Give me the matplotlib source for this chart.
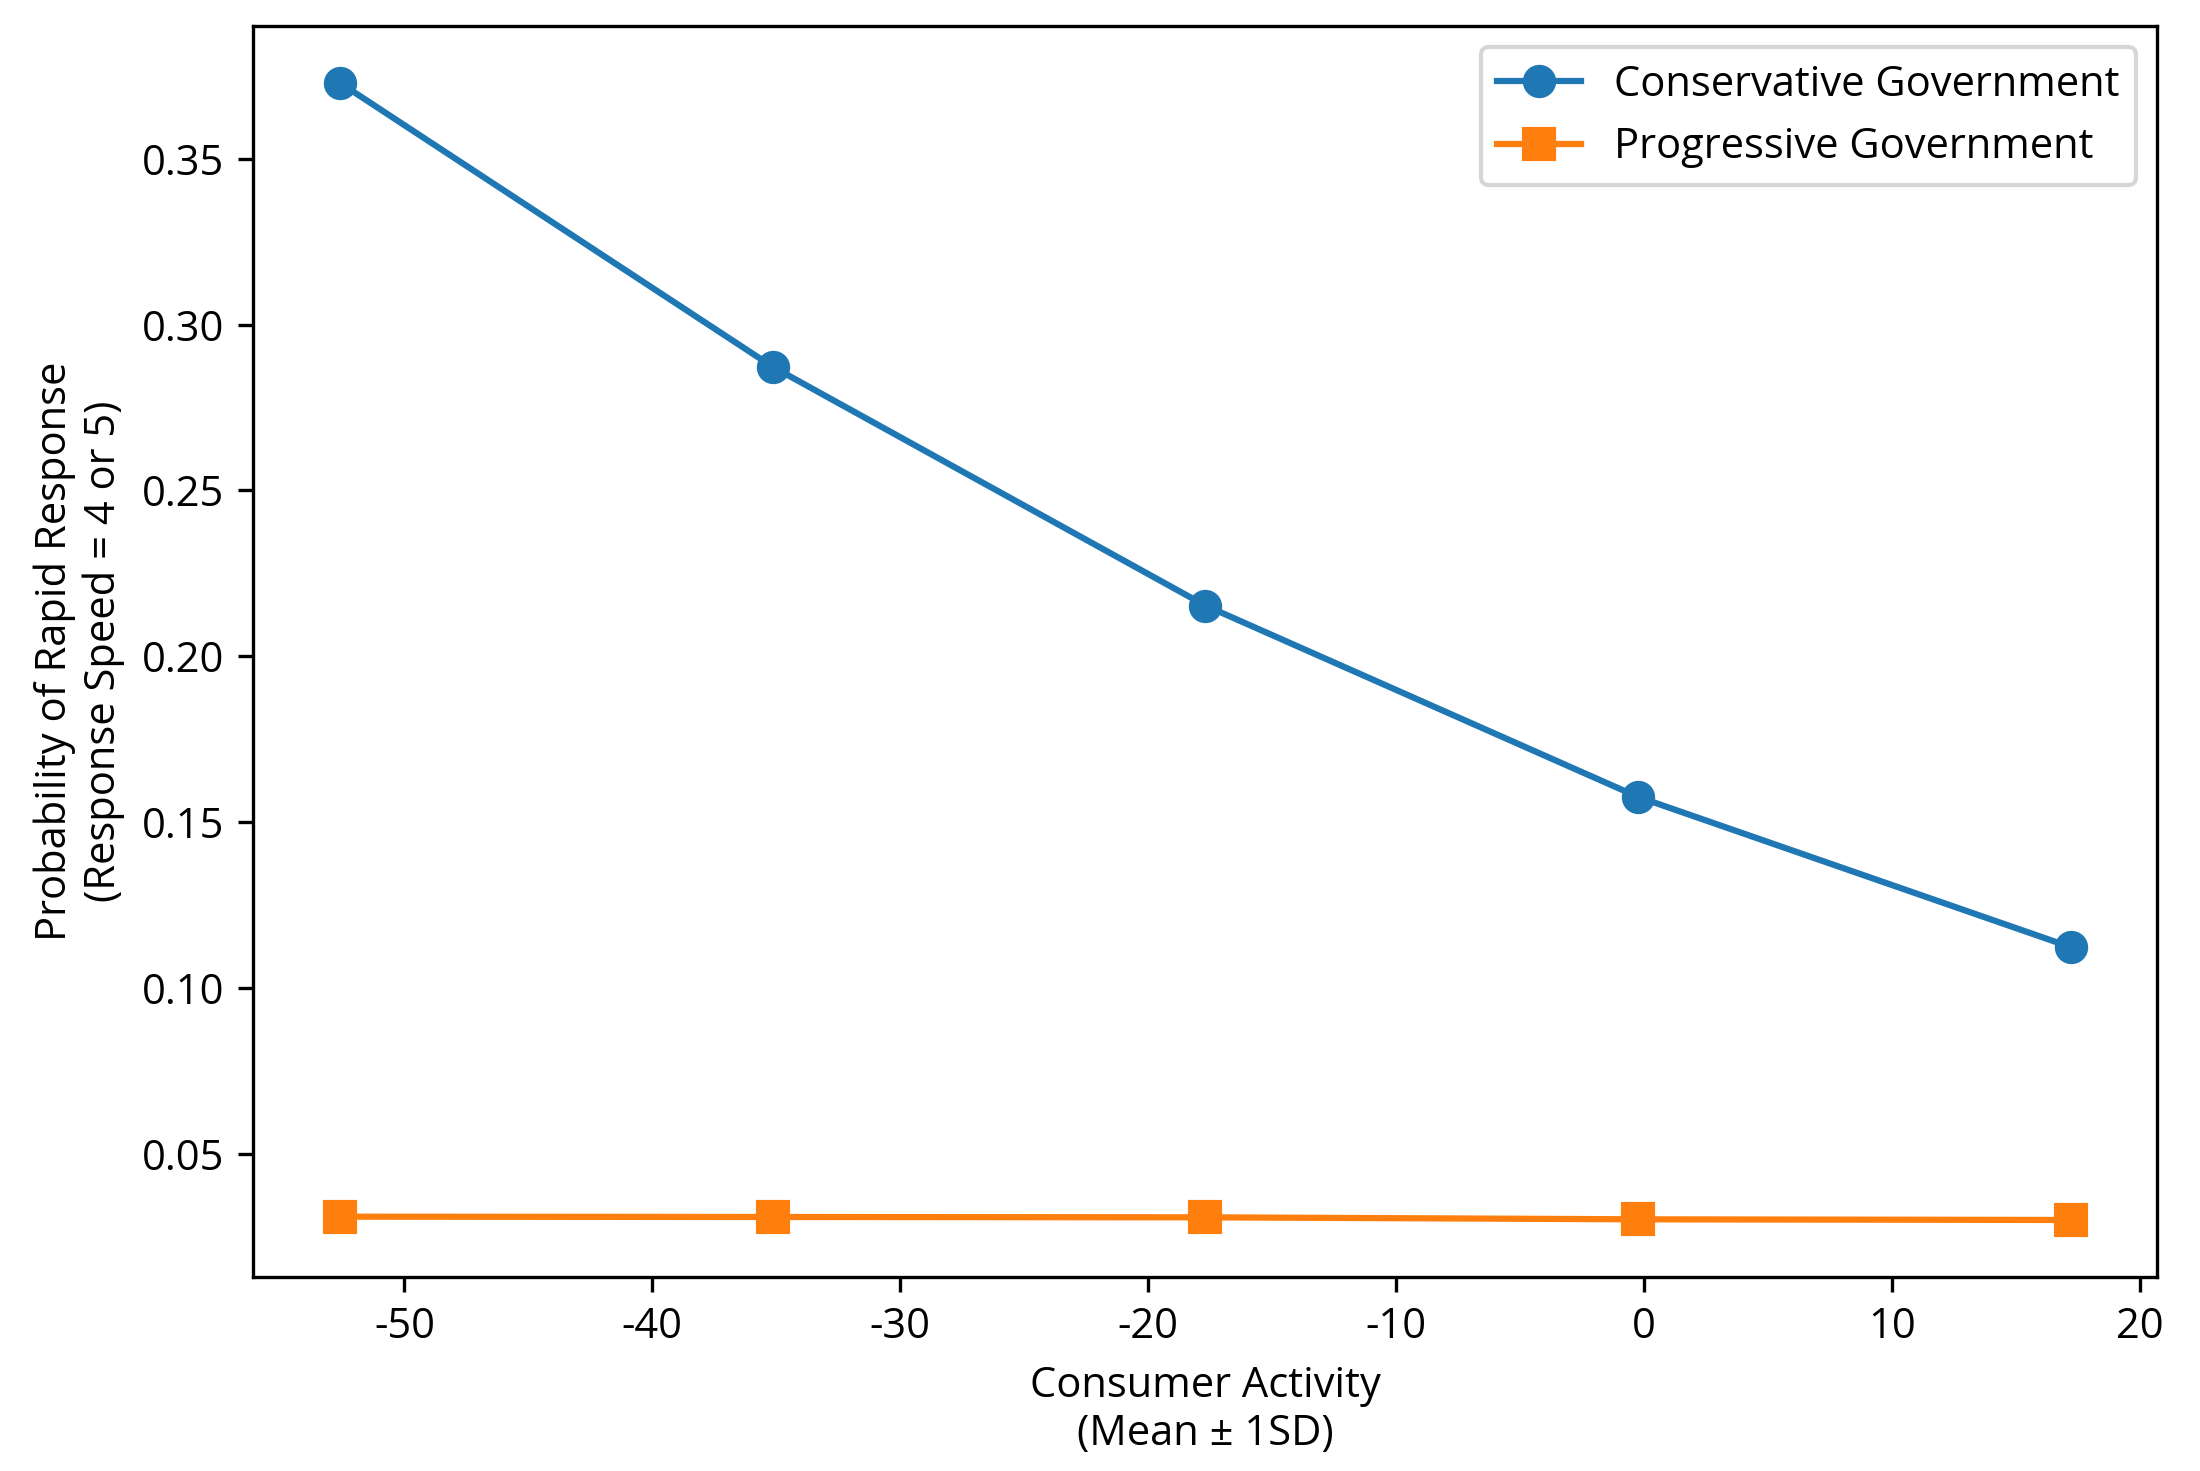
import matplotlib
matplotlib.use("Agg")
import matplotlib.pyplot as plt

plt.rcParams['font.family'] = ['Open Sans', 'DejaVu Sans']
plt.rcParams['axes.unicode_minus'] = False

# consumer activity values (mean +/- SD steps)
consumer_activity = [-52.6, -35.15, -17.7, -0.25, 17.2]

# predicted probability of rapid response
conservative_prob = [0.3729, 0.2873, 0.2153, 0.1576, 0.1123]
progressive_prob = [0.0310, 0.0309, 0.0308, 0.0302, 0.0300]

fig = plt.figure(figsize=(2200 / 300, 1471 / 300), dpi=300)
ax = fig.add_axes([0.1152, 0.132, 0.8653, 0.8503])

ax.plot(consumer_activity, conservative_prob, marker="o", markersize=7,
        color="#1f77b4", label="Conservative Government")
ax.plot(consumer_activity, progressive_prob, marker="s", markersize=7,
        color="#ff7f0e", label="Progressive Government")

ax.set_xlabel("Consumer Activity\n(Mean ± 1SD)")
ax.set_ylabel("Probability of Rapid Response\n(Response Speed = 4 or 5)")
ax.legend(loc="upper right")

fig.savefig("out.png", dpi=300)
